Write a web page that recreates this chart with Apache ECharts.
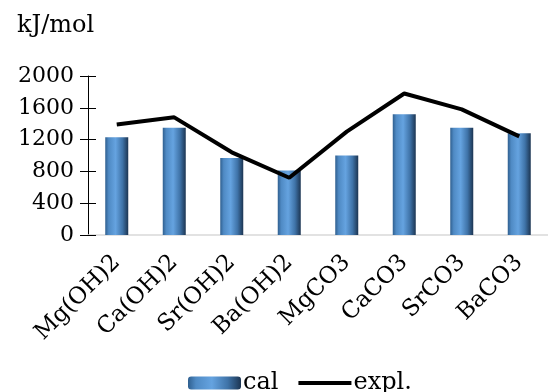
<!DOCTYPE html>
<html><head><meta charset="utf-8">
<script src="https://cdn.jsdelivr.net/npm/echarts@6/dist/echarts.min.js"></script>
<style>html,body{margin:0;padding:0;background:#fff}#c{width:548px;height:392px}</style>
</head><body><div id="c"></div>
<script>
const categories = ['Mg(OH)2','Ca(OH)2','Sr(OH)2','Ba(OH)2','MgCO3','CaCO3','SrCO3','BaCO3'];
const calValues = [1230, 1350, 970, 810, 1000, 1520, 1350, 1280];
const explValues = [1390, 1480, 1040, 720, 1300, 1780, 1580, 1240];
const yTicks = [0, 400, 800, 1200, 1600, 2000];

const FONT = "'DejaVu Serif', 'Liberation Serif', serif";
const chart = echarts.init(document.getElementById('c'));
const barGrad = new echarts.graphic.LinearGradient(0,0,1,0,[
  {offset:0, color:'#2f5f8f'},
  {offset:0.15, color:'#4f8ac4'},
  {offset:0.45, color:'#65a3e0'},
  {offset:0.75, color:'#3f73a8'},
  {offset:1, color:'#1c3552'}
]);
chart.setOption({
  animation:false,
  title:{text:'kJ/mol', left:12, top:9, textStyle:{fontFamily:FONT, fontSize:24, fontWeight:'normal', color:'#000'}},
  grid:{left:88, top:76, width:462, height:159, containLabel:false},
  legend:{left:183, top:366, itemGap:18, itemWidth:53, itemHeight:13,
    textStyle:{fontFamily:FONT, fontSize:24, color:'#000', padding:[0,0,0,-3]},
    data:[{name:'cal'},{name:'expl.', itemStyle:{opacity:0}, lineStyle:{width:4, color:'#000'}}]},
  xAxis:{type:'category', data:categories,
    axisLine:{lineStyle:{color:'#d9d9d9', width:1.5}},
    axisTick:{show:false},
    axisLabel:{rotate:45, margin:24, fontFamily:FONT, fontSize:23, color:'#000'}},
  yAxis:[{type:'value', min:yTicks[0], max:yTicks[yTicks.length-1], interval:400,
    axisLine:{show:true, lineStyle:{color:'#000', width:1}},
    axisTick:{show:true, length:8, lineStyle:{color:'#000'}},
    splitLine:{show:false},
    axisLabel:{margin:14, fontFamily:FONT, fontSize:22, color:'#000', formatter:v=>String(v)}},
   {type:'value', min:yTicks[0], max:yTicks[yTicks.length-1], interval:400, position:'left',
    axisLine:{show:false}, axisTick:{show:true, inside:true, length:8, lineStyle:{color:'#000'}},
    splitLine:{show:false}, axisLabel:{show:false}}],
  series:[
    {name:'cal', type:'bar', data:calValues, barWidth:'40%',
     itemStyle:{color:barGrad}},
    {name:'expl.', type:'line', data:explValues, symbol:'none', showSymbol:false,
     lineStyle:{color:'#000', width:4}, itemStyle:{color:'#000'}}
  ]
});
</script></body></html>
